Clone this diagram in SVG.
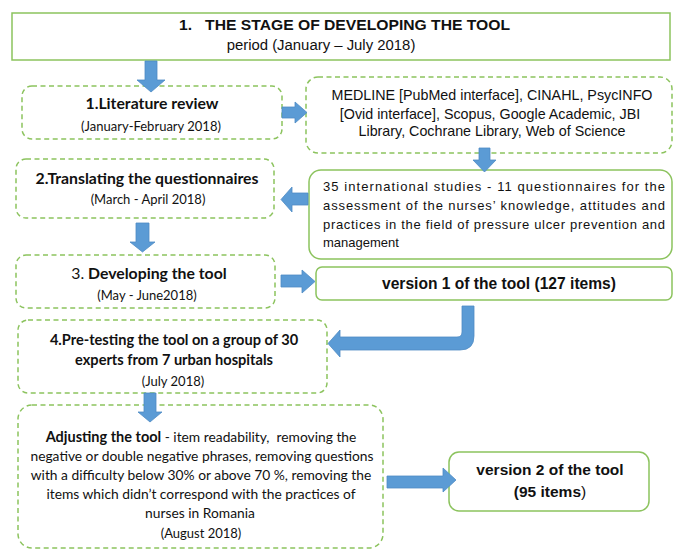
<svg xmlns="http://www.w3.org/2000/svg" width="683" height="550" viewBox="0 0 683 550">
<style>
.solid{fill:#fff;stroke:#8cc35e;stroke-width:1.5}
.dash{fill:#fff;stroke:#8cc35e;stroke-width:1.5;stroke-dasharray:5 3.5}
.arr{fill:#5b9bd5;stroke:#4f8cc4;stroke-width:0.8}
.ar{font-family:"Liberation Sans",Arial,sans-serif;fill:#111}
.ca{font-family:Lato,"Open Sans",sans-serif;fill:#111}
.b{font-weight:bold}
.h{font-size:15.8px;font-weight:bold}
.d{font-size:13px}
</style>
<rect width="683" height="550" fill="#fff"/>
<g id="title">
<rect class="solid" x="12" y="13" width="658" height="47"/>
<text class="ar b" x="179" y="30" font-size="15.5" textLength="331" lengthAdjust="spacingAndGlyphs" xml:space="preserve">1.   THE STAGE OF DEVELOPING THE TOOL</text>
<text class="ar" x="321" y="50" font-size="14.9" text-anchor="middle">period (January – July 2018)</text>
</g>
<g id="lit-review">
<rect class="dash" x="22" y="86" width="260" height="53" rx="10"/>
<text class="ca h" x="152" y="109" text-anchor="middle">1.Literature review</text>
<text class="ca d" x="151" y="131" text-anchor="middle">(January-February 2018)</text>
</g>
<g id="databases">
<rect class="dash" x="306" y="77" width="366" height="76" rx="12"/>
<text class="ar" x="492" y="100" font-size="14.3" text-anchor="middle">MEDLINE [PubMed interface], CINAHL, PsycINFO</text>
<text class="ar" x="490" y="119" font-size="14.3" text-anchor="middle">[Ovid interface], Scopus, Google Academic, JBI</text>
<text class="ar" x="492" y="136" font-size="14.3" text-anchor="middle">Library, Cochrane Library, Web of Science</text>
</g>
<g id="translating">
<rect class="dash" x="16" y="159" width="258" height="59" rx="10"/>
<text class="ca h" x="147" y="184" text-anchor="middle">2.Translating the questionnaires</text>
<text class="ca d" x="148" y="204" text-anchor="middle">(March - April 2018)</text>
</g>
<g id="studies">
<rect class="solid" x="309" y="170" width="363" height="89" rx="12"/>
<text class="ar" x="323" y="191" font-size="13" textLength="342" lengthAdjust="spacing">35 international studies - 11 questionnaires for the</text>
<text class="ar" x="323" y="210" font-size="13" textLength="342" lengthAdjust="spacing">assessment of the nurses’ knowledge, attitudes and</text>
<text class="ar" x="323" y="229" font-size="13" textLength="342" lengthAdjust="spacing">practices in the field of pressure ulcer prevention and</text>
<text class="ar" x="323" y="247" font-size="13">management</text>
</g>
<g id="developing">
<rect class="dash" x="16" y="255" width="259" height="53" rx="10"/>
<text class="ca h" x="149" y="279" text-anchor="middle"><tspan font-weight="normal">3.</tspan> Developing the tool</text>
<text class="ca d" x="147" y="300" text-anchor="middle">(May - June2018)</text>
</g>
<g id="version1">
<rect class="solid" x="316" y="267" width="356" height="33" rx="6"/>
<text class="ar b" x="499" y="289" font-size="15.6" text-anchor="middle">version 1 of the tool (127 items)</text>
</g>
<g id="pretesting">
<rect class="dash" x="18" y="320" width="309" height="73" rx="10"/>
<text class="ca b" x="174" y="345" font-size="14.6" text-anchor="middle">4.Pre-testing the tool on a group of 30</text>
<text class="ca b" x="174" y="365" font-size="14.6" text-anchor="middle">experts from 7 urban hospitals</text>
<text class="ca d" x="173" y="386" text-anchor="middle">(July 2018)</text>
</g>
<g id="adjusting">
<rect class="dash" x="18" y="405" width="365" height="143" rx="14"/>
<text class="ca" x="201" y="442" font-size="13.8" text-anchor="middle" xml:space="preserve"><tspan class="b" font-size="14.5">Adjusting the tool</tspan> - item readability,  removing the</text>
<text class="ca" x="202" y="461" font-size="13.8" text-anchor="middle">negative or double negative phrases, removing questions</text>
<text class="ca" x="201" y="480" font-size="13.8" text-anchor="middle">with a difficulty below 30% or above 70 %, removing the</text>
<text class="ca" x="201" y="499" font-size="13.8" text-anchor="middle">items which didn’t correspond with the practices of</text>
<text class="ca" x="200" y="518" font-size="13.8" text-anchor="middle">nurses in Romania</text>
<text class="ca" x="201" y="538" font-size="13" text-anchor="middle">(August 2018)</text>
</g>
<g id="version2">
<rect class="solid" x="449" y="452" width="200" height="59" rx="10"/>
<text class="ar b" x="550" y="475" font-size="15.5" text-anchor="middle">version 2 of the tool</text>
<text class="ar b" x="550" y="497" font-size="15.5" text-anchor="middle">(95 items<tspan font-weight="normal">)</tspan></text>
</g>
<g id="connectors">
<polygon class="arr" points="145,61 157,61 157,80 165,80 151,92 137,80 145,80"/>
<polygon class="arr" points="282,107 295,107 295,102 307,112.5 295,123 295,118 282,118"/>
<polygon class="arr" points="479,148 490,148 490,160 496,160 484.5,172 473,160 479,160"/>
<polygon class="arr" points="308,193 292,193 292,187 281,199.5 292,212 292,205 308,205"/>
<polygon class="arr" points="136,223 149,223 149,242 155,242 142.5,252 130,242 136,242"/>
<polygon class="arr" points="281,275 302,275 302,270 315,281.5 302,293 302,287 281,287"/>
<path class="arr" d="M462,306 L474,306 L474,336 Q474,350 460,350 L340,350 L340,357 L328,343.5 L340,330 L340,337 L457,337 Q462,337 462,332 Z"/>
<polygon class="arr" points="144,393 156,393 156,412 162,412 150,422 138,412 144,412"/>
<polygon class="arr" points="387,476 443,476 443,468 456,480 443,492 443,488 387,488"/>
</g>
</svg>
